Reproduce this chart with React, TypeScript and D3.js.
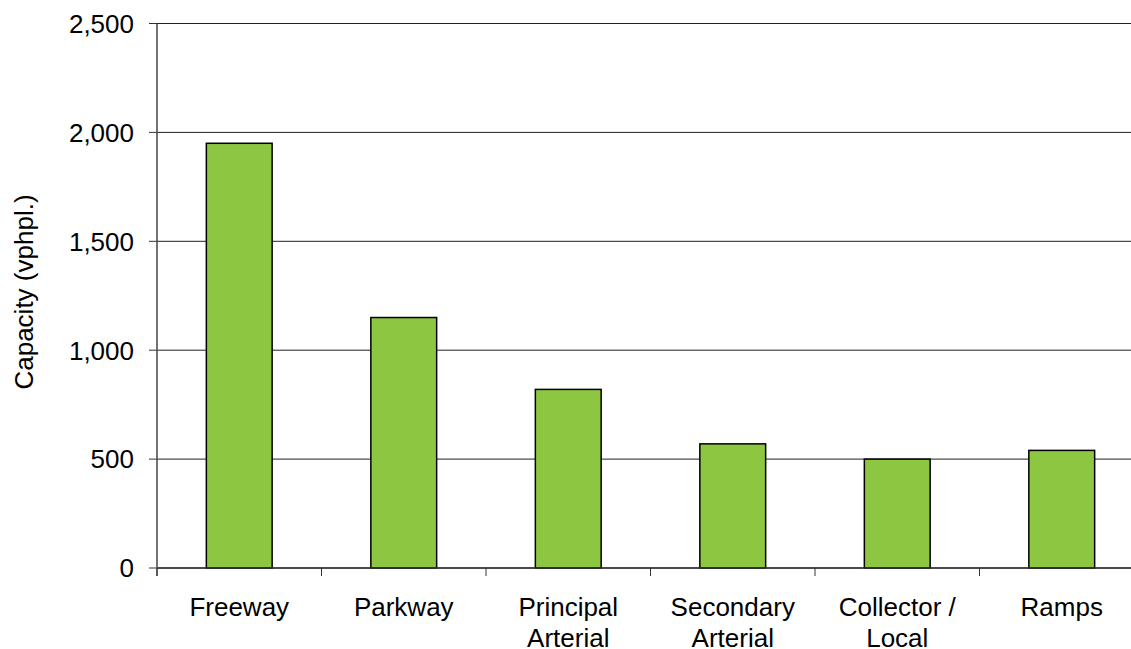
import React from "react";
import * as d3 from "d3";

const categories: string[][] = [
  ["Freeway"],
  ["Parkway"],
  ["Principal", "Arterial"],
  ["Secondary", "Arterial"],
  ["Collector /", "Local"],
  ["Ramps"],
];
const capacity: number[] = [1950, 1150, 820, 570, 500, 540];
const yTicks: number[] = [0, 500, 1000, 1500, 2000, 2500];
const yTitle = "Capacity (vphpl.)";

const W = 1131;
const H = 649;
const left = 157;
const step = 164.5;
const top = 23.5;
const bottom = 568;
const font = "Arial, 'Liberation Sans', sans-serif";

export default function App() {
  const keys = categories.map((c) => c.join(" "));
  const x = d3
    .scaleBand<string>()
    .domain(keys)
    .range([left, left + step * keys.length])
    .paddingInner(0.6)
    .paddingOuter(0.3);
  const y = d3.scaleLinear().domain([0, 2500]).range([bottom, top]);
  const fmt = d3.format(",");

  return (
    <svg
      width={W}
      height={H}
      style={{ position: "absolute", left: 0, top: 0, background: "#fff" }}
      fontFamily={font}
    >
      {/* horizontal gridlines */}
      {yTicks.map((t) => (
        <line
          key={"g" + t}
          x1={left}
          x2={W}
          y1={y(t)}
          y2={y(t)}
          stroke="#222"
          strokeWidth={1}
        />
      ))}
      {/* y tick marks and labels */}
      {yTicks.map((t) => (
        <g key={"t" + t}>
          <line x1={left - 8} x2={left} y1={y(t)} y2={y(t)} stroke="#333" strokeWidth={1} />
          <text
            x={134}
            y={y(t)}
            dy="0.36em"
            textAnchor="end"
            fontSize={26}
            fill="#000"
          >
            {fmt(t)}
          </text>
        </g>
      ))}
      {/* bars */}
      {keys.map((k, i) => (
        <rect
          key={"b" + k}
          x={x(k)}
          y={y(capacity[i])}
          width={x.bandwidth()}
          height={y(0) - y(capacity[i])}
          fill="#8DC641"
          stroke="#000"
          strokeWidth={1.5}
        />
      ))}
      {/* x axis baseline and category tick marks */}
      <line x1={left} x2={W} y1={y(0)} y2={y(0)} stroke="#333" strokeWidth={1.5} />
      {d3.range(keys.length + 1).map((i) => (
        <line
          key={"xt" + i}
          x1={left + i * step}
          x2={left + i * step}
          y1={y(0)}
          y2={y(0) + 8}
          stroke="#333"
          strokeWidth={1}
        />
      ))}
      {/* y axis line */}
      <line x1={left} x2={left} y1={top} y2={y(0) + 8} stroke="#444" strokeWidth={1.5} />
      {/* category labels */}
      {categories.map((lines, i) => (
        <text
          key={"l" + i}
          x={(x(keys[i]) as number) + x.bandwidth() / 2}
          y={616}
          textAnchor="middle"
          fontSize={26}
          fill="#000"
        >
          {lines.map((ln, j) => (
            <tspan key={j} x={(x(keys[i]) as number) + x.bandwidth() / 2} dy={j === 0 ? 0 : 31}>
              {ln}
            </tspan>
          ))}
        </text>
      ))}
      {/* y axis title */}
      <text
        transform={`translate(24, 292) rotate(-90)`}
        dy="0.36em"
        textAnchor="middle"
        fontSize={26}
        fill="#000"
      >
        {yTitle}
      </text>
    </svg>
  );
}
